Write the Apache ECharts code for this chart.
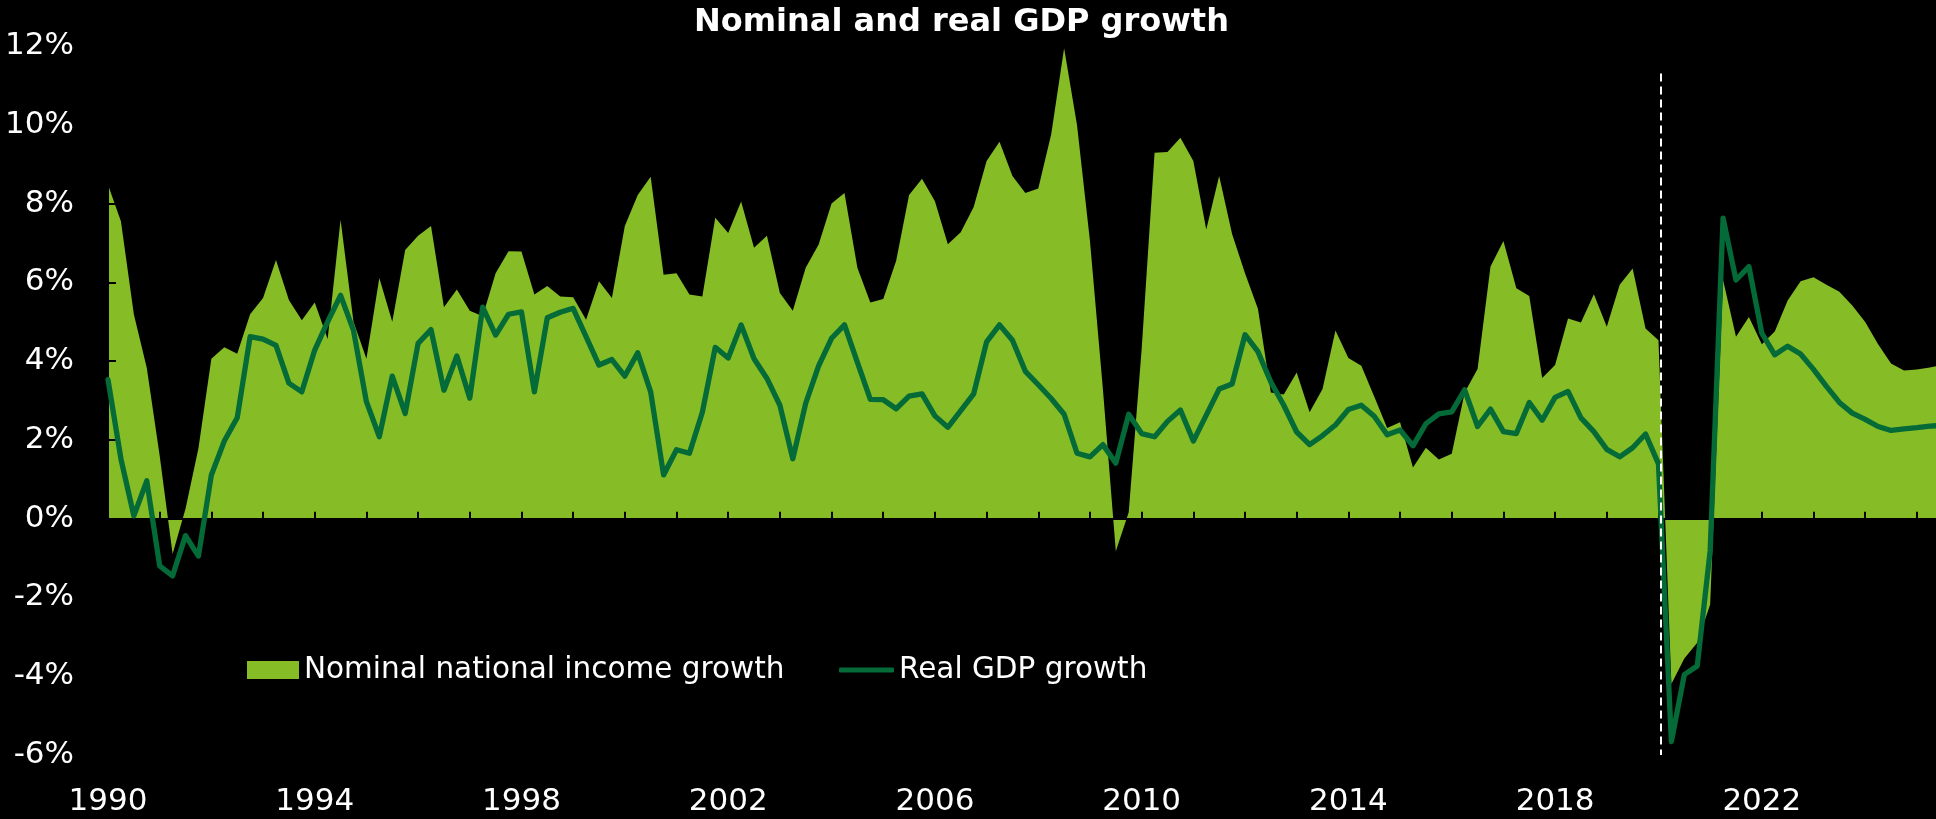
<!DOCTYPE html>
<html>
<head>
<meta charset="utf-8">
<script src="https://cdn.jsdelivr.net/npm/echarts@6/dist/echarts.min.js"></script>
<style>
  html, body { margin: 0; padding: 0; background: #000; }
  #chart { width: 1936px; height: 819px; }
</style>
</head>
<body>
<div id="chart"></div>
<script>
// Quarterly series, year-on-year growth in %, starting 1990 Q1
const startYear = 1990;

const nominalGrowth = [
  8.48, 7.55, 5.19, 3.83, 1.6, -0.9, 0.25, 1.79, 4.06, 4.35,
  4.19, 5.19, 5.6, 6.57, 5.55, 5.04, 5.49, 4.56, 7.59, 5.0,
  4.06, 6.11, 5.0, 6.82, 7.18, 7.43, 5.37, 5.82, 5.28, 5.14,
  6.23, 6.79, 6.78, 5.69, 5.91, 5.64, 5.62, 5.05, 6.03, 5.6,
  7.43, 8.22, 8.68, 6.19, 6.23, 5.69, 5.64, 7.64, 7.25, 8.05,
  6.88, 7.18, 5.73, 5.28, 6.37, 6.96, 8.0, 8.27, 6.37, 5.49,
  5.58, 6.55, 8.22, 8.63, 8.06, 6.97, 7.27, 7.91, 9.08, 9.57,
  8.7, 8.27, 8.38, 9.76, 11.94, 9.99, 7.05, 3.3, -0.83, 0.16,
  4.3, 9.29, 9.31, 9.67, 9.08, 7.34, 8.7, 7.23, 6.23, 5.33,
  3.2, 3.15, 3.71, 2.7, 3.29, 4.78, 4.08, 3.88, 3.1, 2.3,
  2.45, 1.3, 1.8, 1.5, 1.65, 3.2, 3.8, 6.4, 7.05, 5.85,
  5.65, 3.57, 3.9, 5.08, 4.98, 5.7, 4.87, 5.94, 6.35, 4.83,
  4.53, -4.2, -3.55, -3.15, -2.18, 6.06, 4.62, 5.12, 4.43, 4.75,
  5.54, 6.03, 6.13, 5.94, 5.76, 5.41, 4.99, 4.43, 3.94, 3.76,
  3.79, 3.84, 3.9
];

const realGrowth = [
  3.53, 1.52, 0.07, 0.96, -1.2, -1.45, -0.43, -0.95, 1.11, 1.97,
  2.56, 4.62, 4.56, 4.4, 3.44, 3.22, 4.28, 5.0, 5.67, 4.78,
  2.97, 2.08, 3.62, 2.67, 4.45, 4.8, 3.26, 4.13, 3.06, 5.37,
  4.66, 5.19, 5.25, 3.22, 5.1, 5.24, 5.34, 4.62, 3.9, 4.04,
  3.62, 4.21, 3.22, 1.11, 1.75, 1.66, 2.7, 4.35, 4.08, 4.92,
  4.06, 3.56, 2.88, 1.52, 2.93, 3.88, 4.58, 4.92, 3.97, 3.03,
  3.02, 2.79, 3.11, 3.17, 2.61, 2.32, 2.74, 3.17, 4.49, 4.92,
  4.53, 3.74, 3.4, 3.05, 2.65, 1.66, 1.57, 1.88, 1.41, 2.65,
  2.16, 2.08, 2.47, 2.76, 1.97, 2.63, 3.29, 3.42, 4.67, 4.24,
  3.47, 2.88, 2.2, 1.88, 2.11, 2.38, 2.77, 2.88, 2.6, 2.13,
  2.25, 1.85, 2.41, 2.66, 2.71, 3.27, 2.34, 2.78, 2.21, 2.16,
  2.95, 2.5, 3.08, 3.23, 2.56, 2.21, 1.76, 1.57, 1.8, 2.15,
  1.39, -5.66, -3.96, -3.74, -0.82, 7.63, 6.06, 6.4, 4.71, 4.16,
  4.38, 4.18, 3.79, 3.36, 2.95, 2.68, 2.52, 2.34, 2.24, 2.28,
  2.31, 2.35, 2.37
];

// Axis labels and ticks
const yearLabels = [1990, 1994, 1998, 2002, 2006, 2010, 2014, 2018, 2022];
const yearTicks = Array.from({ length: 36 }, (_, k) => startYear + k);
const percentTicks = [-6, -4, -2, 0, 2, 4, 6, 8, 10, 12];
const axisEndYear = 2025.37;
const pandemicBreakYear = 2020.05;

const seriesNames = ['Nominal national income growth', 'Real GDP growth'];
const colors = { nominal: '#86BC25', real: '#046A38' };

// x values are measured in years since startYear
const offset = (year) => year - startYear;
const quarterX = nominalGrowth.map((_, i) => i / 4);
const nominalData = nominalGrowth.map((v, i) => [quarterX[i], v]);
const realData = realGrowth.map((v, i) => [quarterX[i], v]);

const font = 'DejaVu Sans';
const chart = echarts.init(document.getElementById('chart'), null, { renderer: 'canvas' });

chart.setOption({
  backgroundColor: '#000',
  animation: false,
  title: {
    text: 'Nominal and real GDP growth',
    left: 694,
    top: 7,
    padding: 0,
    textStyle: { color: '#fff', fontFamily: font, fontWeight: 'bold', fontSize: 32 }
  },
  legend: [
    {
      data: [{ name: seriesNames[0], icon: 'rect' }],
      left: 247, top: 655, padding: 0,
      itemWidth: 52, itemHeight: 18,
      textStyle: { color: '#fff', fontFamily: font, fontSize: 29.5 }
    },
    {
      data: [{ name: seriesNames[1], icon: 'roundRect' }],
      left: 839, top: 655, padding: 0,
      itemWidth: 55, itemHeight: 5,
      textStyle: { color: '#fff', fontFamily: font, fontSize: 29.5 }
    }
  ],
  grid: { left: 108, right: 0, top: 46, bottom: 64, containLabel: false },
  xAxis: [
    {
      // year labels along the bottom edge
      type: 'value', position: 'bottom',
      min: 0, max: offset(axisEndYear),
      axisLine: { show: false, onZero: false },
      axisTick: { show: false },
      splitLine: { show: false },
      axisLabel: {
        color: '#fff', fontFamily: font, fontSize: 31, margin: 31,
        customValues: yearLabels.map(offset),
        formatter: (v) => String(Math.round(startYear + v))
      }
    },
    {
      // zero line with yearly ticks
      type: 'value', position: 'top',
      min: 0, max: offset(axisEndYear),
      z: 3,
      axisLine: { show: true, onZero: true, lineStyle: { color: '#000', width: 2 } },
      axisTick: {
        show: true, inside: false, length: 7,
        customValues: yearTicks.map(offset),
        lineStyle: { color: '#000', width: 2 }
      },
      axisLabel: { show: false },
      splitLine: { show: false }
    }
  ],
  yAxis: {
    type: 'value',
    min: percentTicks[0], max: percentTicks[percentTicks.length - 1], interval: 2,
    z: 3,
    axisLine: { show: true, lineStyle: { color: '#000', width: 2 } },
    axisTick: { show: true, inside: true, length: 8, lineStyle: { color: '#000', width: 2 } },
    splitLine: { show: false },
    axisLabel: {
      color: '#fff', fontFamily: font, fontSize: 31, margin: 34,
      padding: [5, 0, 0, 0],
      formatter: '{value}%'
    }
  },
  series: [
    {
      name: seriesNames[0],
      type: 'line',
      xAxisIndex: 0,
      data: nominalData,
      showSymbol: false, symbol: 'none',
      z: 2,
      itemStyle: { color: colors.nominal },
      lineStyle: { width: 0, color: colors.nominal },
      areaStyle: { color: colors.nominal, opacity: 1 }
    },
    {
      name: seriesNames[1],
      type: 'line',
      xAxisIndex: 0,
      data: realData,
      showSymbol: false, symbol: 'none',
      z: 4,
      itemStyle: { color: colors.real },
      lineStyle: { width: 5.3, color: colors.real, join: 'round', cap: 'round' },
      markLine: {
        silent: true,
        symbol: ['none', 'none'],
        label: { show: false },
        lineStyle: { color: '#fff', type: [8, 5], width: 2, opacity: 1 },
        data: [[
          { coord: [offset(pandemicBreakYear), 11.3] },
          { coord: [offset(pandemicBreakYear), -6] }
        ]]
      }
    }
  ]
});
</script>
</body>
</html>
